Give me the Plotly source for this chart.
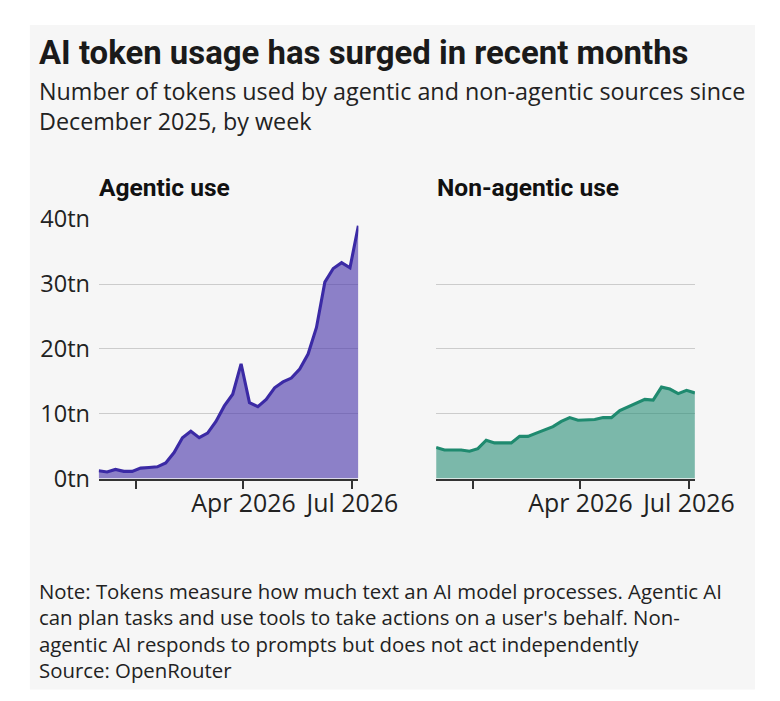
import plotly.graph_objects as go
from plotly.subplots import make_subplots
import pandas as pd

# weekly series, trillions of tokens
weeks = pd.date_range("2025-12-01", periods=32, freq="7D")

agentic = [1.2, 1.0, 1.4, 1.1, 1.1, 1.6, 1.7, 1.8, 2.4, 4.0, 6.3, 7.3,
           6.3, 7.0, 8.8, 11.2, 13.0, 17.7, 11.7, 11.1, 12.2, 14.0, 14.9, 15.5,
           16.9, 19.2, 23.3, 30.3, 32.4, 33.3, 32.5, 39.0]

non_agentic = [4.8, 4.4, 4.4, 4.4, 4.2, 4.6, 5.9, 5.5, 5.5, 5.5, 6.5, 6.5,
               7.0, 7.5, 8.0, 8.8, 9.4, 9.0, 9.0, 9.1, 9.4, 9.4, 10.5, 11.1,
               11.7, 12.2, 12.1, 14.1, 13.8, 13.1, 13.6, 13.2]

y_ticks = [0, 10, 20, 30, 40]
y_labels = ["0tn", "10tn", "20tn", "30tn", "40tn"]
x_ticks = ["2026-01-01", "2026-04-01", "2026-07-01"]
x_labels = ["", "Apr 2026", "Jul 2026"]

panels = ["Agentic use", "Non-agentic use"]
lines = ["#3b2aa5", "#1f8a6f"]
fills = ["rgba(70,50,170,0.6)", "rgba(35,140,115,0.58)"]

title = "AI token usage has surged in recent months"
subtitle = ["Number of tokens used by agentic and non-agentic sources since",
            "December 2025, by week"]
notes = ["Note: Tokens measure how much text an AI model processes. Agentic AI",
         "can plan tasks and use tools to take actions on a user's behalf. Non-",
         "agentic AI responds to prompts but does not act independently",
         "Source: OpenRouter"]

SANS = "Open Sans"
BOLD = "Roboto"

# the page shows up offset and slightly shrunk in the photo, so layout is
# written in photo pixels and mapped back to figure pixels here
S, OX, OY = 0.957, 8, 23.5
W, H = 790, 700


def fx(x):
    return (x - OX) / S / W


def fy(y):
    return 1 - (y - OY) / S / H


def fs(size):
    return size / S


fig = make_subplots(rows=1, cols=2)

for i, vals in enumerate([agentic, non_agentic]):
    fig.add_trace(go.Scatter(x=weeks, y=vals, mode="lines", fill="tozeroy",
                             line=dict(color=lines[i], width=3.1),
                             fillcolor=fills[i], showlegend=False,
                             hoverinfo="skip"), row=1, col=i + 1)

# grey card behind everything
fig.add_shape(type="rect", xref="paper", yref="paper",
              x0=fx(30), x1=fx(760), y0=fy(690), y1=1,
              fillcolor="#f6f6f6", line_width=0, layer="below")

doms = [(fx(99.3), fx(360.7)), (fx(439), fx(699.5))]
ydom = (fy(478.3), fy(218.3))

for i in range(2):
    fig.update_xaxes(domain=doms[i], range=[weeks[0], weeks[-1]],
                     tickvals=x_ticks, ticktext=x_labels,
                     ticks="outside", ticklen=8.5, tickwidth=2, tickcolor="#333",
                     ticklabelstandoff=-7,
                     showline=True, linecolor="#333", linewidth=2,
                     showgrid=False, zeroline=False,
                     tickfont=dict(family=SANS, size=fs(23.8), color="#222"),
                     row=1, col=i + 1)
    fig.update_yaxes(domain=ydom, range=[0, 40], tickvals=y_ticks,
                     ticktext=y_labels if i == 0 else None,
                     showticklabels=(i == 0),
                     ticks="outside", ticklen=3, tickcolor="rgba(0,0,0,0)",
                     showgrid=True, gridcolor="#cccccc", gridwidth=1,
                     zeroline=False, showline=False,
                     tickfont=dict(family=SANS, size=fs(22.5), color="#222"),
                     row=1, col=i + 1)


def text(s, x, y, size, family=SANS, bold=False, color="#222"):
    fig.add_annotation(text=f"<b>{s}</b>" if bold else s,
                       xref="paper", yref="paper", x=fx(x), y=fy(y),
                       xanchor="left", yanchor="middle", align="left",
                       showarrow=False,
                       font=dict(family=family, size=fs(size), color=color))


text(title, 37.5, 50.9, 31.5, family=BOLD, bold=True, color="#1a1a1a")
text("<br>".join(subtitle), 37.5, 105, 22.3)
text(panels[0], 97.5, 186.5, 23.5, family=BOLD, bold=True, color="#111")
text(panels[1], 437.5, 186.5, 23.5, family=BOLD, bold=True, color="#111")
text("<br>".join(notes), 37.5, 630.8, 19.5)

fig.update_layout(width=W, height=H, margin=dict(l=0, r=0, t=0, b=0),
                  paper_bgcolor="white", plot_bgcolor="rgba(0,0,0,0)",
                  font=dict(family=SANS, color="#222"))

fig.write_html("out.html")
